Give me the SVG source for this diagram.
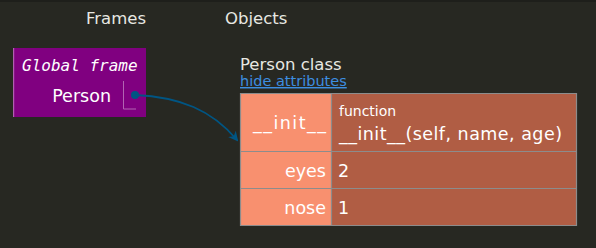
<svg xmlns="http://www.w3.org/2000/svg" width="596" height="248" viewBox="0 0 596 248">
  <style>
    .hdr { font-family: "DejaVu Sans", "Liberation Sans", sans-serif; font-size: 16.5px; fill: #e8e8e2; }
    .lbl { font-family: "DejaVu Sans", "Liberation Sans", sans-serif; fill: #ffffff; }
    .mono { font-family: "DejaVu Sans Mono", "Liberation Mono", monospace; font-style: italic; font-size: 16px; fill: #ffffff; }
    .key { fill: #f8906f; }
    .val { fill: #b05d44; }
    .grid { stroke: #8c8c8c; stroke-width: 1.2; fill: none; }
    .link { stroke: #005583; stroke-width: 1.8; fill: none; }
  </style>
  <defs>
    <marker id="arrowhead" markerWidth="10" markerHeight="10" refX="8" refY="5" orient="auto" markerUnits="userSpaceOnUse">
      <path d="M0,0 L10,5 L0,10 L3,5 z" fill="#005583"/>
    </marker>
  </defs>

  <!-- page background -->
  <rect x="0" y="0" width="596" height="248" fill="#272822"/>
  <rect x="0" y="0" width="596" height="2" fill="#1e1f1b"/>

  <!-- column headers -->
  <text class="hdr" x="86" y="24">Frames</text>
  <text class="hdr" x="225" y="24">Objects</text>

  <!-- global frame -->
  <g id="global-frame">
    <rect x="13" y="48" width="133" height="69" fill="#800080"/>
    <rect x="13" y="48" width="1.2" height="69" fill="#b060b0"/>
    <text class="mono" x="22" y="71">Global frame</text>
    <text class="lbl" x="111" y="102" font-size="17.5" text-anchor="end">Person</text>
    <path d="M123.5,81 V109 H136" stroke="#b264b2" stroke-width="1" fill="none"/>
  </g>

  <!-- Person class object -->
  <g id="person-class">
    <text class="hdr" x="240" y="70" font-size="14">Person class</text>
    <text x="240" y="86" font-family="DejaVu Sans, Liberation Sans, sans-serif" font-size="14.5" fill="#3d8ee0" text-decoration="underline">hide attributes</text>
    <rect class="key" x="240.5" y="93.5" width="91" height="132"/>
    <rect class="val" x="331.5" y="93.5" width="245" height="132"/>
    <path class="grid" d="M240.5,93.5 H576.5 V225.5 H240.5 Z M331.5,93.5 V225.5 M240.5,151.5 H576.5 M240.5,188.5 H576.5"/>
    <text class="lbl" x="253" y="129" font-size="17.5" textLength="73" lengthAdjust="spacing">__init__</text>
    <text class="lbl" x="339" y="116" font-size="14">function</text>
    <text class="lbl" x="339" y="140" font-size="17.5" textLength="223" lengthAdjust="spacing">__init__(self, name, age)</text>
    <text class="lbl" x="326" y="177" font-size="17.5" text-anchor="end">eyes</text>
    <text class="lbl" x="338" y="177" font-size="17.5">2</text>
    <text class="lbl" x="326" y="214" font-size="17.5" text-anchor="end">nose</text>
    <text class="lbl" x="338" y="214" font-size="17.5">1</text>
  </g>

  <!-- connectors -->
  <g id="connectors">
    <circle cx="135" cy="95" r="4" fill="#005583"/>
    <path class="link" d="M135,95 C180,97 212,110 237,140" marker-end="url(#arrowhead)"/>
  </g>
</svg>
